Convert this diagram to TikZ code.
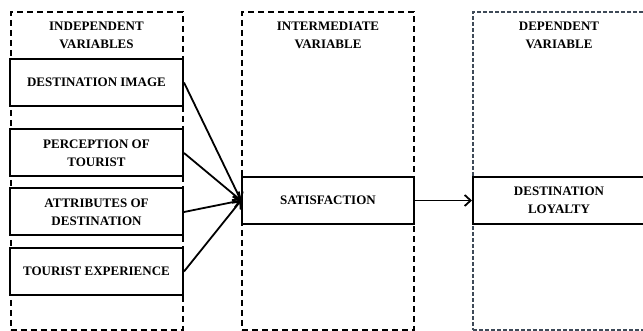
\documentclass[tikz,border=0pt]{standalone}
\usepackage{fontspec}
\setmainfont{Liberation Serif}
\usetikzlibrary{positioning,arrows.meta}

\definecolor{slate}{HTML}{3E4A58}

\begin{document}
\begin{tikzpicture}[
		x=1pt,y=1pt,
		group/.style={draw,line width=2pt,dash pattern=on 6pt off 4pt,minimum width=172pt,minimum height=318pt,inner sep=0pt},
		depgroup/.style={draw=slate,line width=1.3pt,dash pattern=on 4pt off 2pt,minimum width=172pt,minimum height=318pt,inner sep=0pt},
		title/.style={align=center,font=\bfseries\fontsize{13}{18}\selectfont},
		varbox/.style={draw,fill=white,line width=2pt,minimum width=173pt,minimum height=47pt,inner sep=0pt,align=center,font=\bfseries\fontsize{13}{18}\selectfont},
		link/.style={line width=1.8pt,-{Straight Barb[length=6pt,width=11pt]}}
		]
		\useasboundingbox (0,0) rectangle (643,331);
		% dashed groups
		\node[group] (indep) at (96.5,160) {};
		\node[group] (inter) at (328,160) {};
		\node[depgroup] (dep) at (559,160) {};
		\node[title,below=7pt of indep.north] (indeptitle) {INDEPENDENT\\VARIABLES};
		\node[title,below=7pt of inter.north] (intertitle) {INTERMEDIATE\\VARIABLE};
		\node[title,below=7pt of dep.north] (deptitle) {DEPENDENT\\VARIABLE};
		% variables
		\node[varbox] (image) at (96.5,248.5) {DESTINATION IMAGE};
		\node[varbox] (perception) at (96.5,178) {PERCEPTION OF\\TOURIST};
		\node[varbox] (attributes) at (96.5,119) {ATTRIBUTES OF\\DESTINATION};
		\node[varbox] (experience) at (96.5,59.5) {TOURIST EXPERIENCE};
		\node[varbox,minimum width=172pt] (satisfaction) at (328,130.5) {SATISFACTION};
		\node[varbox,minimum width=172pt] (loyalty) at (559,130.5) {DESTINATION\\LOYALTY};
		\path
		(image.east) edge[link] (satisfaction.west)
		(perception.east) edge[link] (satisfaction.west)
		(attributes.east) edge[link] (satisfaction.west)
		(experience.east) edge[link] (satisfaction.west)
		(satisfaction) edge[link] (loyalty);
	\end{tikzpicture}
\end{document}
